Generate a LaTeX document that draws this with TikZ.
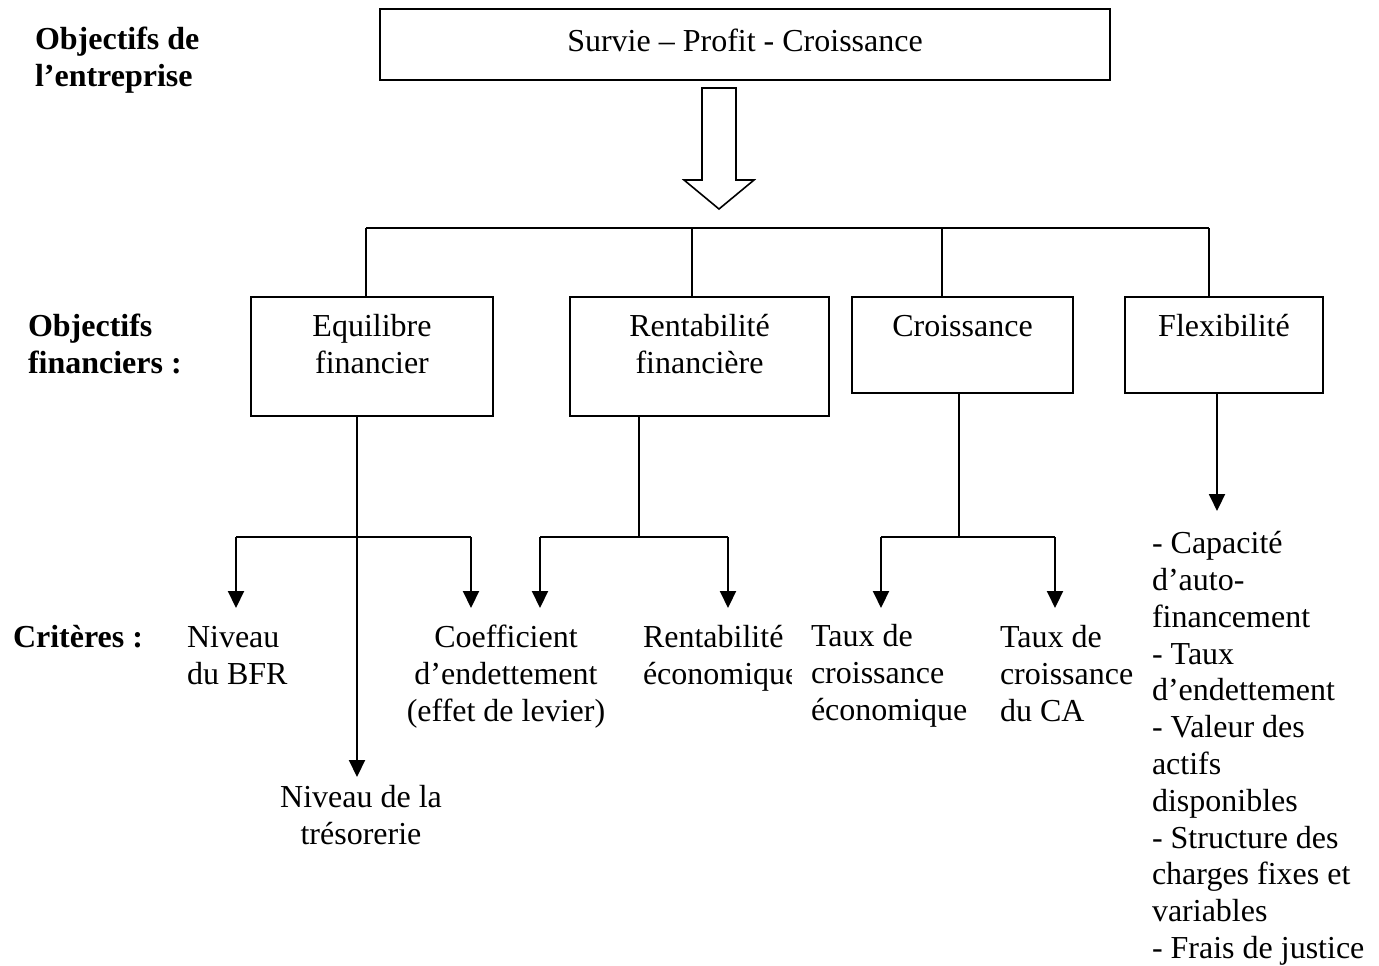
\documentclass[tikz,border=0pt]{standalone}
\usepackage{fontspec}
\setmainfont{Liberation Serif}
\usetikzlibrary{arrows.meta}
\begin{document}
\begin{tikzpicture}[x=0.5pt,y=-0.5pt,
  every node/.style={inner sep=0pt, outer sep=0pt, font=\fontsize{16}{18.4}\selectfont},
  frame/.style={draw, line width=1pt, rectangle},
  ctxt/.style={anchor=north, align=center},
  ltxt/.style={anchor=north west, align=left},
  head/.style={anchor=north west, align=left, font=\fontsize{16}{18.4}\selectfont\bfseries},
  link/.style={line width=1pt},
  arr/.style={line width=1pt, -{Triangle[length=8.5pt,width=8pt]}},
  hollow/.style={line width=0.8pt, line join=miter}
]
\path[use as bounding box] (0,0) rectangle (1379,965);

% row labels
\node[head] (lab1) at (35,24) {\strut Objectifs de\\l’entreprise};
\node[head] (lab2) at (28,311) {\strut Objectifs\\financiers :};
\node[head] (lab3) at (13,622) {\strut Critères :};

% company goals
\node[frame, minimum width=365pt, minimum height=35.5pt, text height=12.88pt, text depth=5.52pt]
  (goal) at (745,44.5) {Survie – Profit - Croissance};

% hollow arrow
\coordinate (hTop) at (719,88);
\draw[hollow] (hTop) ++(-17,0) -- ++(34,0) -- ++(0,92) -- ++(18,0) -- ++(-35,29)
  -- ++(-35,-29) -- ++(18,0) -- cycle;

% financial objectives
\node[frame, minimum width=121pt, minimum height=59.5pt] (eq) at (372,356.5) {};
\node[frame, minimum width=129.5pt, minimum height=59.5pt] (rf) at (699.5,356.5) {};
\node[frame, minimum width=110.5pt, minimum height=48pt] (cr) at (962.5,345) {};
\node[frame, minimum width=99pt, minimum height=48pt] (fl) at (1224,345) {};
\node[ctxt] (eqt) at (372,311) {\strut Equilibre\\financier};
\node[ctxt] (rft) at (699.5,311) {\strut Rentabilité\\financière};
\node[ctxt] (crt) at (962.5,311) {\strut Croissance};
\node[ctxt] (flt) at (1224,311) {\strut Flexibilité};

% distribution bus
\coordinate (B1) at (366,228);
\coordinate (B2) at (692,228);
\coordinate (B3) at (942,228);
\coordinate (B4) at (1209,228);
\draw[link] (B1) -- (B4);
\draw[link] (B1) -- (B1 |- eq.north);
\draw[link] (B2) -- (B2 |- rf.north);
\draw[link] (B3) -- (B3 |- cr.north);
\draw[link] (B4) -- (B4 |- fl.north);

% criteria
\node[ltxt] (c1) at (187,622) {\strut Niveau\\du BFR};
\node[ctxt] (c2) at (506,622) {\strut Coefficient\\d’endettement\\(effet de levier)};
\begin{scope}
  \clip (600,600) rectangle (791,720);
  \node[ltxt] (c3) at (643,622) {\strut Rentabilité\\économique};
\end{scope}
\node[ltxt] (c4) at (811,621) {\strut Taux de\\croissance\\économique};
\node[ltxt] (c5) at (1000,622) {\strut Taux de\\croissance\\du CA};
\node[ctxt] (c6) at (361,782) {\strut Niveau de la\\trésorerie};
\node[ltxt] (c7) at (1152,528) {\strut - Capacité\\d’auto-\\financement\\- Taux\\d’endettement\\- Valeur des\\actifs\\disponibles\\- Structure des\\charges fixes et\\variables\\- Frais de justice};

% equilibrium branch
\coordinate (E0) at (357,537);
\coordinate (EL) at (236,537);
\coordinate (ER) at (471,537);
\coordinate (ELt) at (236,608);
\coordinate (ERt) at (471,608);
\coordinate (ET) at (357,777);
\draw[arr] (E0 |- eq.south) -- (ET);
\draw[link] (EL) -- (ER);
\draw[arr] (EL) -- (ELt);
\draw[arr] (ER) -- (ERt);

% profitability branch
\coordinate (R0) at (639,537);
\coordinate (RL) at (540,537);
\coordinate (RR) at (728,537);
\coordinate (RLt) at (540,608);
\coordinate (RRt) at (728,608);
\draw[link] (R0 |- rf.south) -- (R0);
\draw[link] (RL) -- (RR);
\draw[arr] (RL) -- (RLt);
\draw[arr] (RR) -- (RRt);

% growth branch
\coordinate (C0) at (959,537);
\coordinate (CL) at (881,537);
\coordinate (CR) at (1055,537);
\coordinate (CLt) at (881,608);
\coordinate (CRt) at (1055,608);
\draw[link] (C0 |- cr.south) -- (C0);
\draw[link] (CL) -- (CR);
\draw[arr] (CL) -- (CLt);
\draw[arr] (CR) -- (CRt);

% flexibility branch
\coordinate (FT) at (1217,511);
\draw[arr] (FT |- fl.south) -- (FT);
\end{tikzpicture}
\end{document}
